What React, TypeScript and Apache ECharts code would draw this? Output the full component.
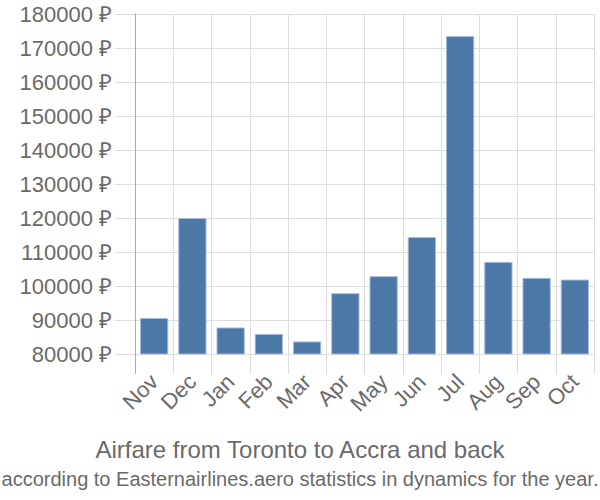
import React, { useEffect, useRef } from "react";
import * as echarts from "echarts";

const months = ["Nov", "Dec", "Jan", "Feb", "Mar", "Apr", "May", "Jun", "Jul", "Aug", "Sep", "Oct"];
const prices = [90600, 120000, 87800, 85900, 83700, 97900, 102900, 114400, 173500, 107100, 102400, 101900];
const titleText = "Airfare from Toronto to Accra and back";
const subtitleText = "according to Easternairlines.aero statistics in dynamics for the year.";

export default function App() {
  const ref = useRef<HTMLDivElement>(null);
  useEffect(() => {
    if (!ref.current) return;
    const chart = echarts.init(ref.current, null, { renderer: "svg" });
    chart.setOption({
      animation: false,
      textStyle: { fontFamily: "Liberation Sans, Arial, sans-serif" },
      title: [
        {
          text: titleText,
          left: "center",
          top: 432,
          textStyle: { fontSize: 24, fontWeight: "normal", color: "#6a6a6a", fontFamily: "Liberation Sans" },
        },
        {
          text: subtitleText,
          left: "center",
          top: 464,
          textStyle: { fontSize: 20, fontWeight: "normal", color: "#6a6a6a", fontFamily: "Liberation Sans" },
        },
      ],
      grid: { left: 135, right: 6, top: 14, bottom: 146, containLabel: false },
      graphic: [
        { type: "line", shape: { x1: 135.5, y1: 354, x2: 135.5, y2: 374 }, style: { stroke: "#aaa", lineWidth: 1 }, z: 10 },
      ],
      xAxis: {
        type: "category",
        data: months,
        axisLine: { show: true, lineStyle: { color: "#ddd" } },
        axisTick: { show: true, length: 20, lineStyle: { color: "#ddd" } },
        splitLine: { show: true, lineStyle: { color: "#ddd" } },
        axisLabel: { rotate: 45, fontSize: 22, color: "#6a6a6a", margin: 24, interval: 0 },
      },
      yAxis: {
        type: "value",
        min: 80000,
        max: 180000,
        interval: 10000,
        axisLine: { show: true, lineStyle: { color: "#aaa" } },
        axisTick: { show: true, length: 20, lineStyle: { color: "#ddd" } },
        splitLine: { show: true, lineStyle: { color: "#ddd" } },
        axisLabel: { fontSize: 22, color: "#6a6a6a", margin: 23, formatter: (v: number) => v + " ₽" },
      },
      series: [
        {
          type: "bar",
          data: prices,
          barCategoryGap: "26%",
          itemStyle: { color: "#4c78a8", borderColor: "#a9bdd6", borderWidth: 1 },
        },
      ],
    });
    return () => chart.dispose();
  }, []);
  return <div ref={ref} style={{ position: "absolute", left: 0, top: 0, width: 600, height: 500 }} />;
}
